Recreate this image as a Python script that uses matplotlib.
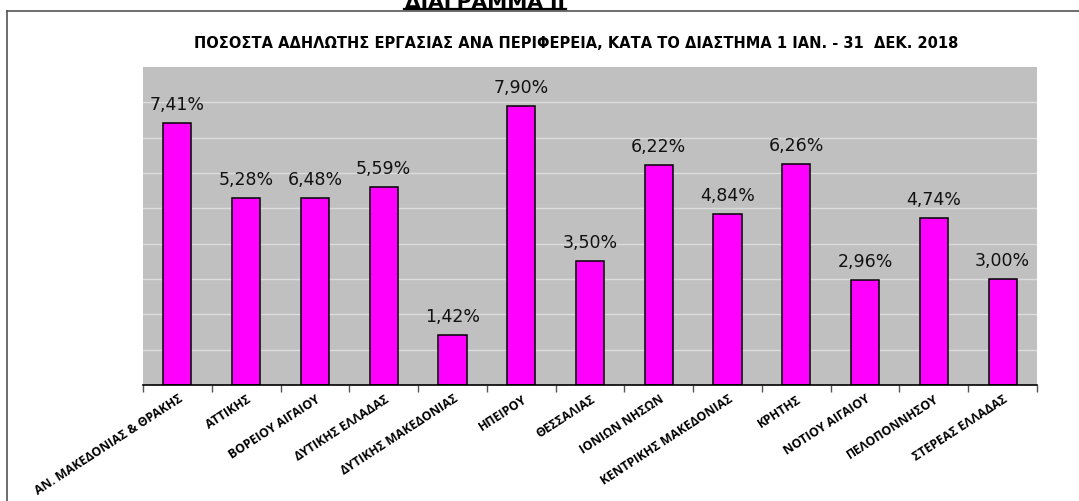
import matplotlib
matplotlib.use("Agg")
import matplotlib.pyplot as plt
from matplotlib.lines import Line2D
import numpy as np

regions = ["ΑΝ. ΜΑΚΕΔΟΝΙΑΣ & ΘΡΑΚΗΣ", "ΑΤΤΙΚΗΣ", "ΒΟΡΕΙΟΥ ΑΙΓΑΙΟΥ", "ΔΥΤΙΚΗΣ ΕΛΛΑΔΑΣ",
           "ΔΥΤΙΚΗΣ ΜΑΚΕΔΟΝΙΑΣ", "ΗΠΕΙΡΟΥ", "ΘΕΣΣΑΛΙΑΣ", "ΙΟΝΙΩΝ ΝΗΣΩΝ",
           "ΚΕΝΤΡΙΚΗΣ ΜΑΚΕΔΟΝΙΑΣ", "ΚΡΗΤΗΣ", "ΝΟΤΙΟΥ ΑΙΓΑΙΟΥ", "ΠΕΛΟΠΟΝΝΗΣΟΥ", "ΣΤΕΡΕΑΣ ΕΛΛΑΔΑΣ"]
# bar heights as drawn in the reference
bar_heights = [7.41, 5.28, 5.28, 5.59, 1.42, 7.90, 3.50, 6.22, 4.84, 6.26, 2.96, 4.74, 3.00]
# data labels as printed in the reference
value_labels = ["7,41%", "5,28%", "6,48%", "5,59%", "1,42%", "7,90%", "3,50%", "6,22%",
                "4,84%", "6,26%", "2,96%", "4,74%", "3,00%"]

W, H = 1079, 502
fig = plt.figure(figsize=(W / 100, H / 100), dpi=100)
fig.patch.set_facecolor("white")

# frame lines
fig.add_artist(Line2D([7 / W, 1.0], [1 - 12 / H, 1 - 12 / H], color="#555555", lw=1.2))
fig.add_artist(Line2D([7 / W, 7 / W], [0, 1 - 12 / H], color="#555555", lw=1.2))

# main (clipped) heading
fig.text(485 / W, 1 - 8 / H, "ΔΙΑΓΡΑΜΜΑ ΙΙ", ha="center", va="baseline",
         fontsize=14.5, fontweight="bold", family=["DejaVu Sans"])
fig.add_artist(Line2D([404 / W, 566 / W], [1 - 10 / H, 1 - 10 / H], color="black", lw=1.6))

fig.text(576 / W, 1 - 43 / H,
         "ΠΟΣΟΣΤΑ ΑΔΗΛΩΤΗΣ ΕΡΓΑΣΙΑΣ ΑΝΑ ΠΕΡΙΦΕΡΕΙΑ, ΚΑΤΑ ΤΟ ΔΙΑΣΤΗΜΑ 1 ΙΑΝ. - 31  ΔΕΚ. 2018",
         ha="center", va="center", fontsize=10.5, fontweight="bold",
         family=["DejaVu Sans"])

left, right, top, bottom = 143, 1037, 68, 386
ax = fig.add_axes([left / W, 1 - bottom / H, (right - left) / W, (bottom - top) / H])
ax.set_facecolor("#c0c0c0")

x = np.arange(len(regions))
ax.bar(x, bar_heights, width=0.41, color="#ff00ff", edgecolor="black", linewidth=1.1, zorder=3)

ax.set_xlim(-0.5, len(regions) - 0.5)
ax.set_ylim(0, 9)
ax.set_yticks(np.arange(1, 9))
ax.yaxis.grid(True, color="#dcdcdc", lw=1.0, zorder=1)
ax.tick_params(axis="y", left=False, labelleft=False)

for s in ["left", "right", "top"]:
    ax.spines[s].set_visible(False)
ax.spines["bottom"].set_color("black")
ax.spines["bottom"].set_linewidth(1.2)
ax.spines["bottom"].set_zorder(4)

ax.set_xticks(x)
ax.set_xticklabels([])
ax.tick_params(axis="x", which="major", length=0)
ax.set_xticks(np.arange(-0.5, len(regions), 1.0), minor=True)
ax.tick_params(axis="x", which="minor", length=5, color="#555555", width=1)

for i, (h, lab) in enumerate(zip(bar_heights, value_labels)):
    ax.annotate(lab, (i, h), xytext=(0, 10), textcoords="offset pixels",
                ha="center", va="bottom", fontsize=12.5, family=["DejaVu Sans"], color="#111111")

for i, name in enumerate(regions):
    ax.annotate(name, (i, 0), xycoords=("data", "axes fraction"), xytext=(4, -12),
                textcoords="offset pixels", ha="right", va="center", rotation=33,
                rotation_mode="anchor", fontsize=8.8, fontweight="bold",
                family=["Open Sans", "DejaVu Sans"], annotation_clip=False)

fig.savefig("out.png", dpi=100)
